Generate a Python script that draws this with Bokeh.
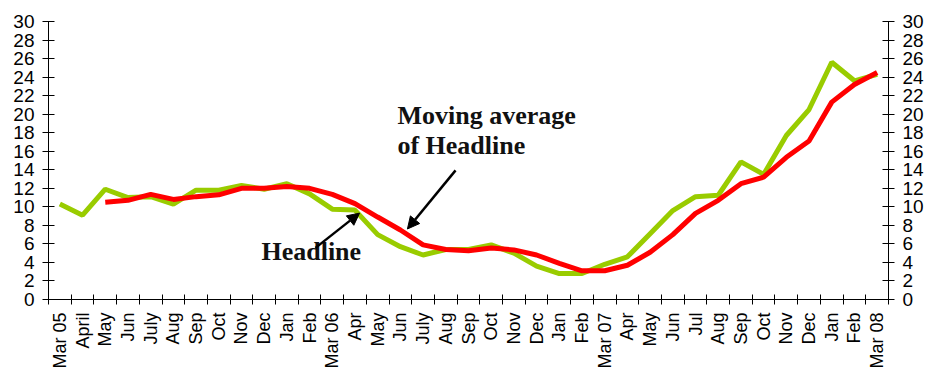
from bokeh.plotting import figure
from bokeh.models import FixedTicker, LinearAxis, Range1d, Label, Arrow, NormalHead
from bokeh.embed import file_html
from bokeh.resources import INLINE

# Monthly categories, Mar 2005 .. Mar 2008
months = ["Mar 05", "April", "May", "Jun", "July", "Aug", "Sep", "Oct", "Nov", "Dec",
          "Jan", "Feb", "Mar 06", "Apr", "May", "Jun", "July", "Aug", "Sep", "Oct",
          "Nov", "Dec", "Jan", "Feb", "Mar 07", "Apr", "May", "Jun", "Jul", "Aug",
          "Sep", "Oct", "Nov", "Dec", "Jan", "Feb", "Mar 08"]

# Headline rate (%)
headline = [10.3, 9.1, 11.9, 11.0, 11.1, 10.3, 11.8, 11.8, 12.3, 11.9,
            12.5, 11.4, 9.75, 9.65, 7.0, 5.7, 4.8, 5.4, 5.4, 5.9,
            5.0, 3.6, 2.8, 2.8, 3.8, 4.6, 7.1, 9.6, 11.1, 11.25,
            14.85, 13.5, 17.7, 20.5, 25.6, 23.6, 24.3]

# Moving average of headline, available from May 05
moving_avg = [10.5, 10.7, 11.35, 10.8, 11.1, 11.3, 12.0, 12.0, 12.2, 12.0,
              11.35, 10.35, 8.9, 7.5, 5.9, 5.4, 5.25, 5.55, 5.35, 4.8,
              3.9, 3.1, 3.1, 3.7, 5.1, 7.0, 9.3, 10.7, 12.5, 13.2,
              15.35, 17.1, 21.3, 23.2, 24.5]
ma_start = 2

y_ticks = list(range(0, 31, 2))

xs = list(range(len(months)))

p = figure(width=928, height=371,
           x_range=Range1d(-0.5, len(months) - 0.5), y_range=Range1d(0, 30),
           output_backend="svg", toolbar_location=None,
           min_border_left=48, min_border_right=40,
           min_border_top=21, min_border_bottom=71,
           background_fill_color="white", border_fill_color="white")
p.outline_line_color = None
p.xgrid.visible = False
p.ygrid.visible = False

p.line(xs, headline, line_color="#99CC00", line_width=5)
p.line(xs[ma_start:], moving_avg, line_color="#FF0000", line_width=5)

# x axis: labels at month centres, tick marks on month boundaries
xax = p.xaxis[0]
xax.ticker = FixedTicker(ticks=xs, minor_ticks=[i - 0.5 for i in range(len(months) + 1)])
xax.major_label_overrides = {i: m for i, m in enumerate(months)}
xax.major_label_orientation = 3.14159265 / 2
xax.major_tick_line_color = None
xax.major_tick_in = 0
xax.major_tick_out = 0
xax.minor_tick_line_color = "black"
xax.minor_tick_in = 5
xax.minor_tick_out = 5
xax.major_label_standoff = 8
xax.major_label_text_font = "Liberation Sans"
xax.major_label_text_font_size = "18px"
xax.major_label_text_color = "black"
xax.axis_line_color = "black"

def style_y(ax, standoff):
    ax.ticker = FixedTicker(ticks=y_ticks, minor_ticks=[])
    ax.major_tick_in = 6
    ax.major_tick_out = 6
    ax.major_tick_line_color = "black"
    ax.minor_tick_line_color = None
    ax.major_label_standoff = standoff
    ax.major_label_text_font = "Liberation Sans"
    ax.major_label_text_font_size = "19px"
    ax.major_label_text_color = "black"
    ax.axis_line_color = "black"

style_y(p.yaxis[0], 8)
right_axis = LinearAxis()
style_y(right_axis, 8)
p.add_layout(right_axis, "right")

# Annotations
serif = "Liberation Serif"
p.add_layout(Label(x=14.87, y=18.3, text="Moving average", text_font=serif,
                   text_font_style="bold", text_font_size="26px", text_color="#111111"))
p.add_layout(Label(x=14.87, y=15.1, text="of Headline", text_font=serif,
                   text_font_style="bold", text_font_size="26px", text_color="#111111"))
p.add_layout(Label(x=8.88, y=3.64, text="Headline", text_font=serif,
                   text_font_style="bold", text_font_size="26px", text_color="#111111"))

p.add_layout(Arrow(x_start=11.26, y_start=5.57, x_end=13.2, y_end=9.32,
                   line_color="black", line_width=2.5,
                   end=NormalHead(size=12, fill_color="black", line_color="black")))
p.add_layout(Arrow(x_start=17.43, y_start=13.93, x_end=15.31, y_end=7.61,
                   line_color="black", line_width=2.5,
                   end=NormalHead(size=12, fill_color="black", line_color="black")))

open("out.html", "w").write(file_html(p, INLINE))
